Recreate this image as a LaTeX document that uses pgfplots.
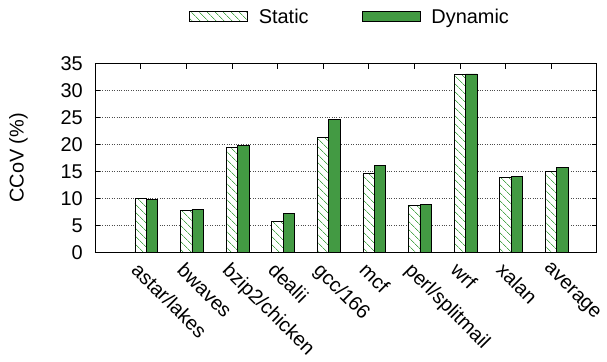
\documentclass[border=0pt]{standalone}
\usepackage{pgfplots}
\usepackage{pgfplotstable}
\pgfplotsset{compat=1.18}
\usepackage{fontspec}
\setmainfont{Liberation Sans}
\usetikzlibrary{patterns.meta}
\definecolor{dyngreen}{HTML}{439A43}
\definecolor{hatchgreen}{HTML}{4FA84F}

\pgfplotstableread{
x   static  dynamic
0   10.00   9.75
1   7.78    8.00
2   19.37   19.87
3   5.74    7.22
4   21.30   24.56
5   14.60   16.10
6   8.70    8.80
7   33.00   33.07
8   13.94   14.13
9   15.00   15.74
}\cov

\begin{document}
\begin{tikzpicture}[font=\fontsize{20}{22}\selectfont]
\begin{axis}[
  scale only axis,
  width=501.7bp, height=188.8bp,
  xmin=-1, xmax=10,
  ymin=0, ymax=35,
  ytick={0,5,...,35},
  xtick={0,...,9},
  xticklabels={astar/lakes,bwaves,bzip2/chicken,dealii,gcc/166,mcf,perl/splitmail,wrf,xalan,average},
  xticklabel style={rotate=-45, anchor=north west, inner sep=0pt, xshift=6bp, yshift=-6bp},
  tick label style={font=\fontsize{20}{22}\selectfont},
  label style={font=\fontsize{20}{22}\selectfont},
  tick align=inside,
  major tick length=5bp,
  ymajorgrids,
  grid style={black!70, dotted, line width=0.5pt},
  axis line style={line width=0.8pt},
  tick style={black, line width=0.6pt},
  ylabel={CCoV (\%)},
  ylabel style={at={(axis description cs:0,0.5)}, anchor=center, yshift=76.5bp},
  yticklabel style={inner sep=0pt, xshift=-12bp},
  /pgf/number format/assume math mode=true,
  legend style={at={(0.187,1.248)}, anchor=west, draw=none, fill=none,
    inner sep=0pt, font=\fontsize{20}{22}\selectfont,
    nodes={inner sep=0pt},
    /tikz/every odd column/.append style={column sep=11bp},
    /tikz/every even column/.append style={column sep=53bp}},
  legend columns=2,
  legend cell align=left,
  legend image code/.code={\draw[#1] (0bp,-5bp) rectangle (58bp,5bp);},
]
\addplot[ybar, bar width=0.25, bar shift=0pt, draw=black, line width=0.8pt,
  fill=white, postaction={pattern={Lines[angle=-45,distance=6bp,line width=0.8bp]}, pattern color=hatchgreen}]
  table[x=x, y=static] {\cov};
\addlegendentry{Static}
\addplot[ybar, bar width=0.25, bar shift=0pt, draw=black, line width=0.8pt, fill=dyngreen]
  table[x expr=\thisrow{x}+0.25, y=dynamic] {\cov};
\addlegendentry{Dynamic}
\end{axis}
\pgfresetboundingbox
\path[use as bounding box] ([xshift=-95bp,yshift=-109.7bp]current axis.south west) rectangle ([xshift=10.3bp,yshift=63.5bp]current axis.north east);
\end{tikzpicture}
\end{document}
